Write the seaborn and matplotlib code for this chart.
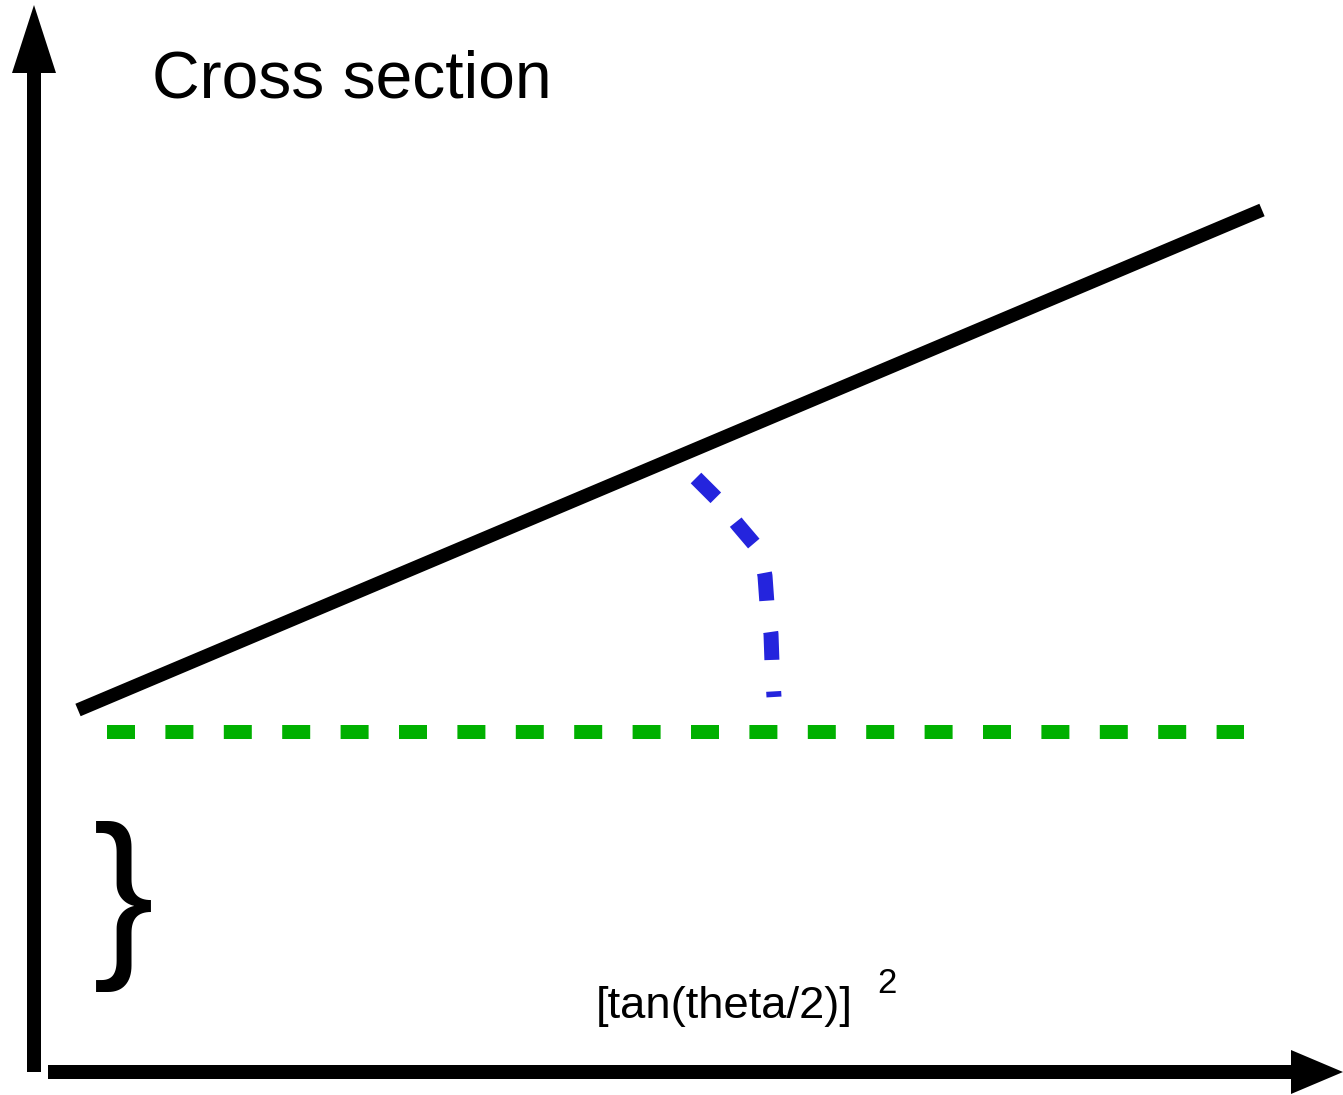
import matplotlib
matplotlib.use("Agg")
import matplotlib.pyplot as plt
import seaborn as sns

# canvas in pixels (diagram drawn in pixel coords)
W, H = 1343, 1095

# lines
cross_x = [78, 1262]
cross_y = [710, 210]

base_x = [107, 1244]
base_y = [732, 732]

arc_x = [696, 718, 738, 755, 762, 765, 767, 769, 771, 772, 773, 774]
arc_y = [478, 500, 525, 545, 560, 576, 604, 620, 634, 663, 680, 697]

# axes arrows
yaxis_x = [34, 34]
yaxis_y = [1072, 68]
yhead_x = [34, 12, 56]
yhead_y = [5, 73, 73]

xaxis_x = [48, 1294]
xaxis_y = [1072, 1072]
xhead_x = [1343, 1291, 1291]
xhead_y = [1072, 1050, 1094]

title = "Cross section"
xlabel = "[tan(theta/2)]"
xlabel_sup = "2"

px = 0.72  # points per pixel at dpi 100

sns.set_style("white")
plt.rcParams["font.family"] = ["Liberation Sans", "DejaVu Sans"]

fig = plt.figure(figsize=(W / 100, H / 100), dpi=100)
ax = fig.add_axes([0, 0, 1, 1])
ax.set_xlim(0, W)
ax.set_ylim(H, 0)
ax.axis("off")

# main line
sns.lineplot(x=cross_x, y=cross_y, ax=ax, color="black", lw=13.5 * px,
             solid_capstyle="butt", sort=False, estimator=None)

# green dashed line
sns.lineplot(x=base_x, y=base_y, ax=ax, color="#00b000", lw=14 * px,
             linestyle=(0, (28 / 14, 30.4 / 14)),
             dash_capstyle="butt", sort=False, estimator=None)

# blue dashed arc
sns.lineplot(x=arc_x, y=arc_y, ax=ax, color="#2424dd", lw=15 * px,
             linestyle=(0, (28 / 15, 31.5 / 15)),
             dash_capstyle="butt", dash_joinstyle="round", sort=False, estimator=None)

# axes with arrow heads
sns.lineplot(x=yaxis_x, y=yaxis_y, ax=ax, color="black", lw=14 * px,
             solid_capstyle="butt", sort=False, estimator=None)
ax.fill(yhead_x, yhead_y, color="black", lw=0)
sns.lineplot(x=xaxis_x, y=xaxis_y, ax=ax, color="black", lw=14 * px,
             solid_capstyle="butt", sort=False, estimator=None)
ax.fill(xhead_x, xhead_y, color="black", lw=0)

# texts
ax.text(152, 97, title, fontsize=47.5, va="baseline", ha="left", color="black")
ax.text(596, 1018, xlabel, fontsize=32.7, va="baseline", ha="left", color="black")
ax.text(877, 993, xlabel_sup, fontsize=25, va="baseline", ha="left", color="black")
ax.text(93, 906, "}", fontsize=132, va="center", ha="left", color="black")

fig.savefig("out.png", dpi=100)
